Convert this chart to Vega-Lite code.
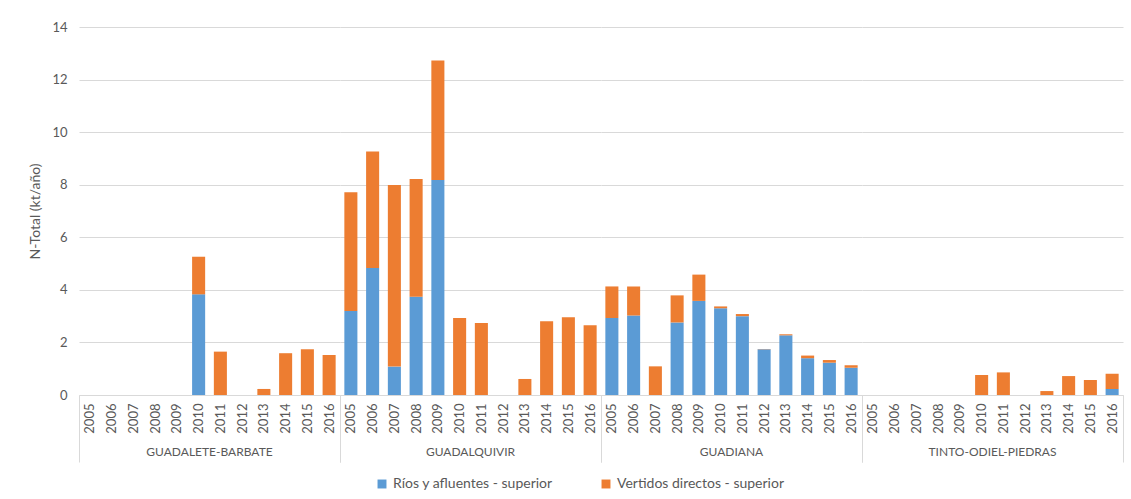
{
  "$schema": "https://vega.github.io/schema/vega-lite/v6.json",
  "padding": {"left": 28, "top": 21, "right": 5, "bottom": 0},
  "background": "white",
  "data": {"values": [
    {"cuenca": "GUADALETE-BARBATE", "year": "2010", "serie": "Ríos y afluentes - superior", "value": 3.83},
    {"cuenca": "GUADALETE-BARBATE", "year": "2010", "serie": "Vertidos directos - superior", "value": 1.43},
    {"cuenca": "GUADALETE-BARBATE", "year": "2011", "serie": "Vertidos directos - superior", "value": 1.65},
    {"cuenca": "GUADALETE-BARBATE", "year": "2013", "serie": "Vertidos directos - superior", "value": 0.23},
    {"cuenca": "GUADALETE-BARBATE", "year": "2014", "serie": "Vertidos directos - superior", "value": 1.59},
    {"cuenca": "GUADALETE-BARBATE", "year": "2015", "serie": "Vertidos directos - superior", "value": 1.74},
    {"cuenca": "GUADALETE-BARBATE", "year": "2016", "serie": "Vertidos directos - superior", "value": 1.52},
    {"cuenca": "GUADALQUIVIR", "year": "2005", "serie": "Ríos y afluentes - superior", "value": 3.20},
    {"cuenca": "GUADALQUIVIR", "year": "2005", "serie": "Vertidos directos - superior", "value": 4.51},
    {"cuenca": "GUADALQUIVIR", "year": "2006", "serie": "Ríos y afluentes - superior", "value": 4.83},
    {"cuenca": "GUADALQUIVIR", "year": "2006", "serie": "Vertidos directos - superior", "value": 4.43},
    {"cuenca": "GUADALQUIVIR", "year": "2007", "serie": "Ríos y afluentes - superior", "value": 1.08},
    {"cuenca": "GUADALQUIVIR", "year": "2007", "serie": "Vertidos directos - superior", "value": 6.91},
    {"cuenca": "GUADALQUIVIR", "year": "2008", "serie": "Ríos y afluentes - superior", "value": 3.74},
    {"cuenca": "GUADALQUIVIR", "year": "2008", "serie": "Vertidos directos - superior", "value": 4.48},
    {"cuenca": "GUADALQUIVIR", "year": "2009", "serie": "Ríos y afluentes - superior", "value": 8.18},
    {"cuenca": "GUADALQUIVIR", "year": "2009", "serie": "Vertidos directos - superior", "value": 4.55},
    {"cuenca": "GUADALQUIVIR", "year": "2010", "serie": "Vertidos directos - superior", "value": 2.93},
    {"cuenca": "GUADALQUIVIR", "year": "2011", "serie": "Vertidos directos - superior", "value": 2.74},
    {"cuenca": "GUADALQUIVIR", "year": "2013", "serie": "Vertidos directos - superior", "value": 0.61},
    {"cuenca": "GUADALQUIVIR", "year": "2014", "serie": "Vertidos directos - superior", "value": 2.81},
    {"cuenca": "GUADALQUIVIR", "year": "2015", "serie": "Vertidos directos - superior", "value": 2.96},
    {"cuenca": "GUADALQUIVIR", "year": "2016", "serie": "Vertidos directos - superior", "value": 2.65},
    {"cuenca": "GUADIANA", "year": "2005", "serie": "Ríos y afluentes - superior", "value": 2.93},
    {"cuenca": "GUADIANA", "year": "2005", "serie": "Vertidos directos - superior", "value": 1.20},
    {"cuenca": "GUADIANA", "year": "2006", "serie": "Ríos y afluentes - superior", "value": 3.02},
    {"cuenca": "GUADIANA", "year": "2006", "serie": "Vertidos directos - superior", "value": 1.11},
    {"cuenca": "GUADIANA", "year": "2007", "serie": "Vertidos directos - superior", "value": 1.09},
    {"cuenca": "GUADIANA", "year": "2008", "serie": "Ríos y afluentes - superior", "value": 2.76},
    {"cuenca": "GUADIANA", "year": "2008", "serie": "Vertidos directos - superior", "value": 1.03},
    {"cuenca": "GUADIANA", "year": "2009", "serie": "Ríos y afluentes - superior", "value": 3.58},
    {"cuenca": "GUADIANA", "year": "2009", "serie": "Vertidos directos - superior", "value": 1.00},
    {"cuenca": "GUADIANA", "year": "2010", "serie": "Ríos y afluentes - superior", "value": 3.30},
    {"cuenca": "GUADIANA", "year": "2010", "serie": "Vertidos directos - superior", "value": 0.07},
    {"cuenca": "GUADIANA", "year": "2011", "serie": "Ríos y afluentes - superior", "value": 3.00},
    {"cuenca": "GUADIANA", "year": "2011", "serie": "Vertidos directos - superior", "value": 0.08},
    {"cuenca": "GUADIANA", "year": "2012", "serie": "Ríos y afluentes - superior", "value": 1.74},
    {"cuenca": "GUADIANA", "year": "2012", "serie": "Vertidos directos - superior", "value": 0.01},
    {"cuenca": "GUADIANA", "year": "2013", "serie": "Ríos y afluentes - superior", "value": 2.27},
    {"cuenca": "GUADIANA", "year": "2013", "serie": "Vertidos directos - superior", "value": 0.04},
    {"cuenca": "GUADIANA", "year": "2014", "serie": "Ríos y afluentes - superior", "value": 1.40},
    {"cuenca": "GUADIANA", "year": "2014", "serie": "Vertidos directos - superior", "value": 0.10},
    {"cuenca": "GUADIANA", "year": "2015", "serie": "Ríos y afluentes - superior", "value": 1.23},
    {"cuenca": "GUADIANA", "year": "2015", "serie": "Vertidos directos - superior", "value": 0.10},
    {"cuenca": "GUADIANA", "year": "2016", "serie": "Ríos y afluentes - superior", "value": 1.04},
    {"cuenca": "GUADIANA", "year": "2016", "serie": "Vertidos directos - superior", "value": 0.09},
    {"cuenca": "TINTO-ODIEL-PIEDRAS", "year": "2010", "serie": "Vertidos directos - superior", "value": 0.76},
    {"cuenca": "TINTO-ODIEL-PIEDRAS", "year": "2011", "serie": "Vertidos directos - superior", "value": 0.86},
    {"cuenca": "TINTO-ODIEL-PIEDRAS", "year": "2013", "serie": "Vertidos directos - superior", "value": 0.15},
    {"cuenca": "TINTO-ODIEL-PIEDRAS", "year": "2014", "serie": "Vertidos directos - superior", "value": 0.72},
    {"cuenca": "TINTO-ODIEL-PIEDRAS", "year": "2015", "serie": "Vertidos directos - superior", "value": 0.57},
    {"cuenca": "TINTO-ODIEL-PIEDRAS", "year": "2016", "serie": "Ríos y afluentes - superior", "value": 0.23},
    {"cuenca": "TINTO-ODIEL-PIEDRAS", "year": "2016", "serie": "Vertidos directos - superior", "value": 0.58}
  ]},
  "facet": {
    "column": {
      "field": "cuenca", "type": "nominal",
      "sort": ["GUADALETE-BARBATE", "GUADALQUIVIR", "GUADIANA", "TINTO-ODIEL-PIEDRAS"],
      "header": {"title": null, "labelOrient": "bottom", "labelPadding": -16, "labelFont": "Lato", "labelFontSize": 12, "labelColor": "#595959"}
    }
  },
  "spacing": 0,
  "spec": {
    "width": 261,
    "height": 368,
    "mark": {"type": "bar", "width": {"band": 0.6}},
    "encoding": {
      "x": {
        "field": "year", "type": "ordinal",
        "scale": {"domain": ["2005","2006","2007","2008","2009","2010","2011","2012","2013","2014","2015","2016"], "paddingInner": 0, "paddingOuter": 0},
        "axis": {
          "title": null,
          "labelAngle": 270,
          "labelPadding": -59,
          "labelFont": "Lato",
          "labelFontSize": 13,
          "labelColor": "#595959",
          "domainColor": "#D9D9D9",
          "tickBand": "extent",
          "tickSize": 67,
          "tickColor": "#D9D9D9",
          "tickOpacity": {"condition": {"test": "indexof(['2005','2006','2007','2008','2009','2010','2011','2012','2013','2014','2015'], datum.value) < 0", "value": 1}, "value": 0},
          "grid": false
        }
      },
      "y": {
        "field": "value", "type": "quantitative", "aggregate": "sum", "stack": "zero",
        "scale": {"domain": [0, 14]},
        "axis": {
          "title": "N-Total (kt/año)",
          "values": [0, 2, 4, 6, 8, 10, 12, 14],
          "ticks": false, "domain": false,
          "labelPadding": 12,
          "labelFont": "Lato", "labelFontSize": 13, "labelColor": "#595959",
          "titleFont": "Lato", "titleFontSize": 14, "titleFontWeight": "normal", "titleColor": "#595959",
          "titlePadding": 9,
          "gridColor": "#D9D9D9"
        }
      },
      "color": {
        "field": "serie", "type": "nominal",
        "scale": {"domain": ["Ríos y afluentes - superior", "Vertidos directos - superior"], "range": ["#5B9BD5", "#ED7D31"]},
        "legend": {
          "title": null, "orient": "none", "legendX": 296, "legendY": 450, "direction": "horizontal",
          "symbolType": "square", "symbolSize": 80, "symbolStrokeWidth": 0,
          "labelFont": "Lato", "labelFontSize": 14, "labelColor": "#595959", "labelLimit": 400, "columnPadding": 46
        }
      },
      "order": {"field": "serie", "sort": "ascending"}
    }
  },
  "config": {
    "view": {"stroke": null},
    "font": "Lato"
  }
}
